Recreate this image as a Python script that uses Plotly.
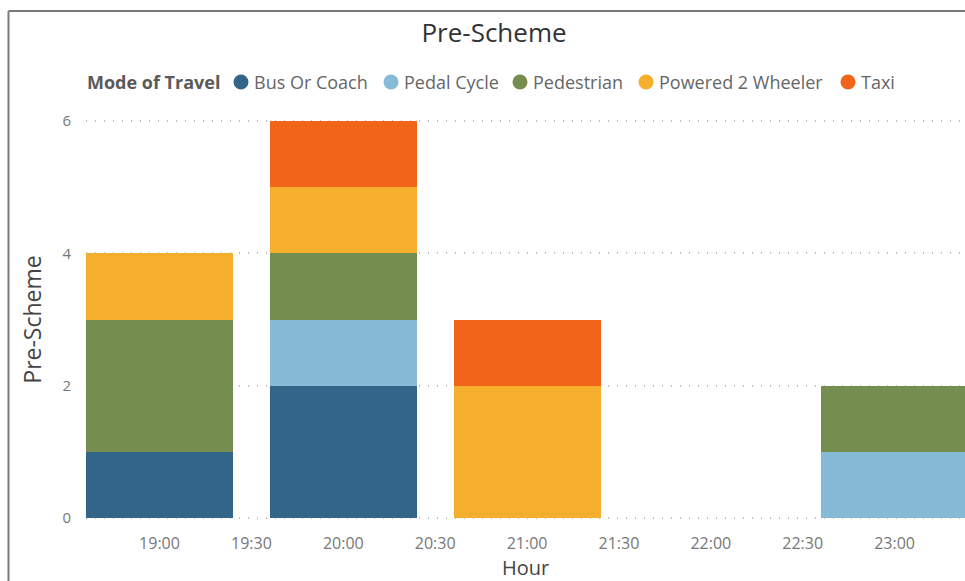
import plotly.graph_objects as go

# ---- data ----
hours = ["19:00", "20:00", "21:00", "23:00"]
modes = ["Bus Or Coach", "Pedal Cycle", "Pedestrian", "Powered 2 Wheeler", "Taxi"]
bus_or_coach = [1, 2, 0, 0]
pedal_cycle = [0, 1, 0, 1]
pedestrian = [2, 1, 0, 1]
powered_2_wheeler = [1, 1, 2, 0]
taxi = [0, 1, 1, 0]
colors = ["#33658A", "#86BBD8", "#758E4F", "#F6AE2D", "#F26419"]
series = [bus_or_coach, pedal_cycle, pedestrian, powered_2_wheeler, taxi]

DAY = "2024-01-01 "
xs = [DAY + h for h in hours]
FONT = "Segoe UI, Open Sans, sans-serif"

W, H = 965, 581
ML, MR, MT, MB = 86, 0, 119, 61
PAD = 0.03  # small y padding so gridlines at 0 and 6 are drawn

fig = go.Figure()
for name, vals, col in zip(modes, series, colors):
    fig.add_trace(go.Bar(
        x=xs, y=vals, name=name, marker=dict(color=col, line=dict(width=0)),
        width=0.8 * 3600 * 1000, showlegend=False,
    ))

pw = W - ML - MR
ph = H - MT - MB

def px_x(p):
    return (p - ML) / pw

def px_y(p):
    return (H - MB - p) / ph

# outer frame lines (top and left)
fig.add_shape(type="line", xref="paper", yref="paper",
              x0=px_x(8.5), x1=px_x(W + 10), y0=px_y(11), y1=px_y(11),
              line=dict(color="#7a7a7a", width=2))
fig.add_shape(type="line", xref="paper", yref="paper",
              x0=px_x(8.5), x1=px_x(8.5), y0=px_y(11), y1=px_y(H + 10),
              line=dict(color="#7a7a7a", width=2))

# Power BI style legend: bold title, round markers, tight spacing
LEG_Y = 82
fig.add_annotation(text="<b>Mode of Travel</b>", xref="paper", yref="paper",
                   x=px_x(85), y=px_y(LEG_Y), xanchor="left", yanchor="middle",
                   showarrow=False, font=dict(size=18, color="#5a5a5a", family=FONT))
marker_px = [241, 391, 520, 646, 848]
for name, col, mx in zip(modes, colors, marker_px):
    fig.add_shape(type="circle", xref="paper", yref="paper",
                  xsizemode="pixel", ysizemode="pixel",
                  xanchor=px_x(mx), yanchor=px_y(LEG_Y),
                  x0=-7.5, x1=7.5, y0=-7.5, y1=7.5,
                  fillcolor=col, line=dict(width=0))
    fig.add_annotation(text=name, xref="paper", yref="paper",
                       x=px_x(mx + 11), y=px_y(LEG_Y), xanchor="left", yanchor="middle",
                       showarrow=False, font=dict(size=18, color="#666666", family=FONT))

fig.update_layout(
    width=W, height=H,
    margin=dict(l=ML, r=MR, t=MT, b=MB),
    paper_bgcolor="white", plot_bgcolor="white",
    barmode="stack",
    showlegend=False,
    font=dict(family=FONT, color="#777777"),
    title=dict(text="Pre-Scheme", x=494 / W, xanchor="center",
               y=1 - 33 / H, yanchor="middle", yref="container",
               font=dict(size=26, color="#333333", family=FONT)),
    xaxis=dict(
        type="date",
        range=[DAY + "18:36", DAY + "23:23"],
        tickformat="%H:%M", dtick=30 * 60 * 1000, tick0=DAY + "19:00",
        showgrid=False, zeroline=False, showline=False,
        ticks="", ticklabelstandoff=12,
        tickfont=dict(size=16, color="#777777"),
        title=dict(text="Hour", font=dict(size=20, color="#444444"), standoff=4),
    ),
    yaxis=dict(
        range=[-PAD, 6 + PAD], dtick=2, tick0=0,
        showgrid=True, gridcolor="#bdbdbd", griddash="1px,8px", gridwidth=1.5,
        zeroline=False, showline=False, ticks="", ticklabelstandoff=14,
        tickfont=dict(size=15, color="#777777"),
        title=dict(text="Pre-Scheme", font=dict(size=23, color="#444444"), standoff=14),
    ),
)

fig.write_html("out.html")
